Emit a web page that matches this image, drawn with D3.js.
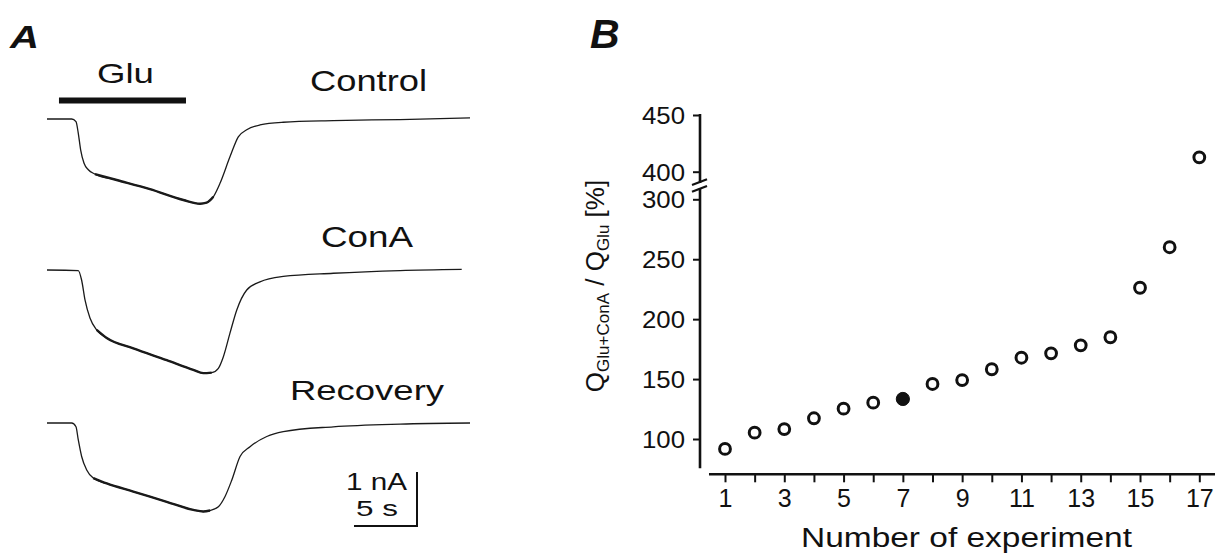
<!DOCTYPE html>
<html>
<head>
<meta charset="utf-8">
<script src="https://cdn.jsdelivr.net/npm/d3@7"></script>
<style>
  html, body { margin: 0; padding: 0; background: #fff; }
  svg { display: block; }
  text { font-family: "Liberation Sans", Arial, Helvetica, sans-serif; fill: #111; }
</style>
</head>
<body>
<svg id="fig" width="1224" height="554"></svg>
<script>
// ---------- Panel A: whole-cell currents (time in s, current in nA) ----------
const controlT = [0, 1.96, 2.30, 2.48, 2.67, 2.94, 3.28, 3.81, 5.53, 8.17, 10.82, 12.14, 12.67, 13.20, 13.73, 14.52, 15.18, 15.85, 16.90, 18.75, 22.72, 28.02, 33.57];
const controlI = [0, 0, -0.05, -0.26, -0.57, -0.82, -0.94, -1.02, -1.13, -1.30, -1.50, -1.57, -1.55, -1.44, -1.19, -0.70, -0.33, -0.20, -0.11, -0.06, -0.03, -0.01, 0.02];

const conAT = [0, 2.48, 2.75, 3.02, 3.41, 3.94, 4.74, 6.85, 9.50, 11.61, 12.40, 13.07, 13.60, 13.99, 14.52, 15.06, 15.85, 16.90, 18.75, 22.72, 28.02, 32.91];
const conAI = [0, -0.01, -0.19, -0.56, -0.89, -1.11, -1.26, -1.45, -1.67, -1.85, -1.91, -1.90, -1.82, -1.61, -1.17, -0.74, -0.37, -0.22, -0.12, -0.06, -0.01, 0.01];

const recoveryT = [0, 1.96, 2.30, 2.48, 2.75, 3.15, 3.67, 4.74, 6.85, 9.50, 11.61, 12.40, 12.94, 13.60, 14.13, 14.66, 15.32, 16.11, 17.44, 18.75, 22.72, 28.02, 33.57];
const recoveryI = [0, 0, -0.07, -0.31, -0.62, -0.87, -1.02, -1.12, -1.27, -1.46, -1.61, -1.64, -1.62, -1.55, -1.36, -1.06, -0.62, -0.44, -0.25, -0.16, -0.07, -0.02, 0];

const traceNames = ["Control", "ConA", "Recovery"];
const gluApplication = [0.95, 11.03];   // s
const scaleBarTime = 5;                 // s
const scaleBarCurrent = 1;              // nA

// ---------- Panel B: charge ratio per experiment ----------
const experiments = [1, 2, 3, 4, 5, 6, 7, 8, 9, 10, 11, 12, 13, 14, 15, 16, 17];
const ratios = [91.7, 105.3, 108.3, 117.3, 125.3, 130.3, 133.4, 145.9, 149.2, 158.2, 167.8, 171.5, 178.2, 184.9, 226.2, 260.0, 412.7];
const highlighted = [7];
const yTicksLower = [100, 150, 200, 250, 300];
const yTicksUpper = [400, 450];
const xTickLabels = [1, 3, 5, 7, 9, 11, 13, 15, 17];

const svg = d3.select("#fig");

// Text helper: fixed advance width to reproduce the wide lettering
function label(g, str, x, y, size, opts = {}) {
  const t = g.append("text")
    .attr("x", x).attr("y", y)
    .attr("font-size", size)
    .text(str);
  if (opts.width) t.attr("textLength", opts.width).attr("lengthAdjust", "spacingAndGlyphs");
  if (opts.anchor) t.attr("text-anchor", opts.anchor);
  if (opts.weight) t.attr("font-weight", opts.weight);
  if (opts.style) t.attr("font-style", opts.style);
  return t;
}

// ================= Panel A =================
const gA = svg.append("g");
const tx = d3.scaleLinear().domain([0, 33.6]).range([47, 470.4]);
const pxPerNA = 54;
const bases = [119, 270, 423];
const traces = [
  { t: controlT, i: controlI },
  { t: conAT, i: conAI },
  { t: recoveryT, i: recoveryI }
];

traces.forEach((tr, k) => {
  const iy = d3.scaleLinear().domain([0, -1]).range([bases[k], bases[k] + pxPerNA]);
  const pts = tr.t.map((t, j) => [t, tr.i[j]]);
  const line = d3.line().x(d => tx(d[0])).y(d => iy(d[1])).curve(d3.curveMonotoneX);
  gA.append("path").datum(pts)
    .attr("d", line)
    .attr("fill", "none")
    .attr("stroke", "#1a1a1a")
    .attr("stroke-width", 1.3);
  // noisier, heavier stretch of the trace during the slow phase
  const slow = pts.filter(d => d[0] >= 3.6 && d[0] <= 13.3);
  gA.append("path").datum(slow)
    .attr("d", line)
    .attr("fill", "none")
    .attr("stroke", "#1a1a1a")
    .attr("stroke-width", 2.4);
});

// Glu application bar
gA.append("line")
  .attr("x1", tx(gluApplication[0])).attr("x2", tx(gluApplication[1]))
  .attr("y1", 100.5).attr("y2", 100.5)
  .attr("stroke", "#111").attr("stroke-width", 5.8);

label(gA, "A", 10, 48, 32, { weight: "bold", style: "italic", width: 29 });
label(gA, "Glu", 97, 83, 28, { width: 57 });
label(gA, "Control", 310, 91, 29.5, { width: 117 });
label(gA, "ConA", 321, 247, 29.5, { width: 92 });
label(gA, "Recovery", 290, 399.5, 28.5, { width: 154 });

// Scale bar
const sbX = 417, sbY = 526;
const sbW = tx(scaleBarTime) - tx(0);
const sbH = scaleBarCurrent * pxPerNA;
gA.append("path")
  .attr("d", `M${sbX - sbW},${sbY}H${sbX}V${sbY - sbH}`)
  .attr("fill", "none").attr("stroke", "#111").attr("stroke-width", 2);
label(gA, "1 nA", 346, 489.5, 23, { width: 61 });
label(gA, "5 s", 356, 516, 22, { width: 42 });

// ================= Panel B =================
const gB = svg.append("g");
const axisX = 700;
const yLower = d3.scaleLinear().domain([100, 300]).range([439, 199.3]);
const yUpper = d3.scaleLinear().domain([400, 450]).range([171.7, 115]);
const x = d3.scaleLinear().domain([1, 17]).range([725, 1199.3]);
const yOf = v => (v > 350 ? yUpper(v) : yLower(v));

// y axis, broken between 300 and 400
const axStroke = 2.6;
gB.append("line").attr("x1", axisX).attr("x2", axisX)
  .attr("y1", yUpper(450) - 1).attr("y2", 183)
  .attr("stroke", "#111").attr("stroke-width", axStroke);
gB.append("line").attr("x1", axisX).attr("x2", axisX)
  .attr("y1", 188.5).attr("y2", yLower(75.6))
  .attr("stroke", "#111").attr("stroke-width", axStroke);
[[185, 179.3], [191.7, 186]].forEach(([ya, yb]) => {
  gB.append("line")
    .attr("x1", axisX - 8).attr("y1", ya)
    .attr("x2", axisX + 7).attr("y2", yb)
    .attr("stroke", "#111").attr("stroke-width", 2.2);
});

function yAxis(scale, ticks) {
  const g = gB.append("g")
    .attr("transform", `translate(${axisX},0)`)
    .call(d3.axisLeft(scale).tickValues(ticks).tickSize(7).tickSizeOuter(0).tickPadding(8));
  g.select(".domain").remove();
  g.selectAll(".tick line").attr("stroke", "#111").attr("stroke-width", 2);
  g.selectAll(".tick text")
    .attr("font-family", "Liberation Sans, Arial, sans-serif")
    .attr("font-size", 24).attr("fill", "#111")
    .attr("dy", "0.36em")
    .attr("textLength", 43).attr("lengthAdjust", "spacingAndGlyphs");
}
yAxis(yLower, yTicksLower);
yAxis(yUpper, yTicksUpper);

// x axis
const axisY = 474.3;
const gx = gB.append("g")
  .attr("transform", `translate(0,${axisY})`)
  .call(d3.axisBottom(x).tickValues(experiments).tickSize(8).tickSizeOuter(0).tickPadding(6)
    .tickFormat(d => xTickLabels.includes(d) ? d : ""));
gx.select(".domain").remove();
gx.selectAll(".tick line").attr("stroke", "#111").attr("stroke-width", 2);
gx.selectAll(".tick text")
  .attr("font-family", "Liberation Sans, Arial, sans-serif")
  .attr("font-size", 25).attr("fill", "#111")
  .attr("dy", "0.75em");
gB.append("line")
  .attr("x1", x(0.46)).attr("x2", x(17.53))
  .attr("y1", axisY).attr("y2", axisY)
  .attr("stroke", "#111").attr("stroke-width", axStroke);

// data points
gB.selectAll("circle.pt")
  .data(experiments.map((e, k) => ({ e, v: ratios[k] })))
  .join("circle")
  .attr("class", "pt")
  .attr("cx", d => x(d.e))
  .attr("cy", d => yOf(d.v))
  .attr("r", d => highlighted.includes(d.e) ? 6.6 : 5.4)
  .attr("fill", d => highlighted.includes(d.e) ? "#111" : "#fff")
  .attr("stroke", "#111")
  .attr("stroke-width", d => highlighted.includes(d.e) ? 1 : 3);

// axis titles
label(gB, "Number of experiment", 801, 547, 27, { width: 331 });

const yt = gB.append("text")
  .attr("transform", "translate(604,286) rotate(-90)")
  .attr("text-anchor", "middle")
  .attr("font-size", 26);
yt.append("tspan").text("Q");
yt.append("tspan").attr("font-size", 17).attr("dy", 5).text("Glu+ConA");
yt.append("tspan").attr("dy", -5).text(" / Q");
yt.append("tspan").attr("font-size", 17).attr("dy", 5).text("Glu");
yt.append("tspan").attr("dy", -5).text("  [%]");

label(gB, "B", 590, 48, 41, { weight: "bold", style: "italic" });
</script>
</body>
</html>
